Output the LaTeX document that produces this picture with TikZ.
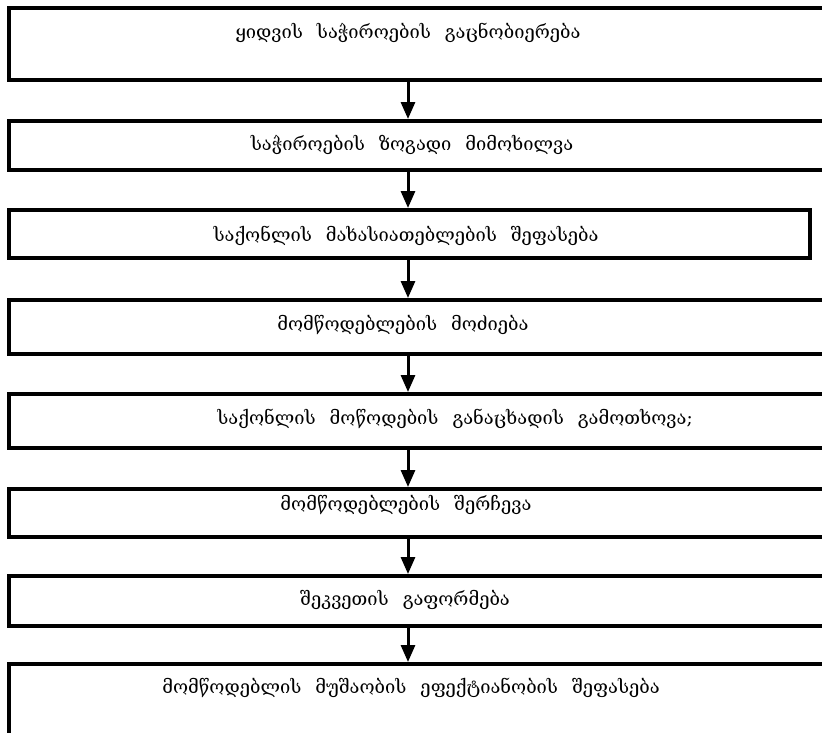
\documentclass[tikz,border=0pt]{standalone}
\usepackage{fontspec}
\setmainfont{DejaVu Serif}[WordSpace=2.4]
\usetikzlibrary{arrows.meta}
\begin{document}
\begin{tikzpicture}[x=1pt,y=-1pt,
  stepbox/.style={draw=black, line width=4pt, fill=white, anchor=north west,
    rectangle, inner sep=0pt},
  steptext/.style={font=\fontsize{18.3}{20}\selectfont, inner sep=0pt, anchor=center},
  flow/.style={line width=3pt, -{Triangle[width=14pt,length=17pt]}}]
\useasboundingbox (0,0) rectangle (822,732);
\clip (0,0) rectangle (822,732);
% process boxes (open past the right and bottom edges where they run off)
\node[stepbox, minimum width=840pt, minimum height=72pt] (b1) at (7,6) {};
\node[stepbox, minimum width=840pt, minimum height=49pt] (b2) at (7,119) {};
\node[stepbox, minimum width=801pt, minimum height=48pt] (b3) at (7,208) {};
\node[stepbox, minimum width=840pt, minimum height=54pt] (b4) at (7,298) {};
\node[stepbox, minimum width=840pt, minimum height=54pt] (b5) at (7,392) {};
\node[stepbox, minimum width=840pt, minimum height=48pt] (b6) at (7,487) {};
\node[stepbox, minimum width=840pt, minimum height=50pt] (b7) at (7,574) {};
\node[stepbox, minimum width=840pt, minimum height=100pt] (b8) at (7,662) {};
% step labels
\node[steptext] (t1) at (408,33) {ყიდვის საჭიროების გაცნობიერება};
\node[steptext] (t2) at (412,145) {საჭიროების ზოგადი მიმოხილვა};
\node[steptext] (t3) at (406,236) {საქონლის მახასიათებლების შეფასება};
\node[steptext] (t4) at (403,325) {მომწოდებლების მოძიება};
\node[steptext] (t5) at (455,419) {საქონლის მოწოდების განაცხადის გამოთხოვა;};
\node[steptext] (t6) at (406,505) {მომწოდებლების შერჩევა};
\node[steptext] (t7) at (405,600) {შეკვეთის გაფორმება};
\node[steptext] (t8) at (411,688) {მომწოდებლის მუშაობის ეფექტიანობის შეფასება};
% connectors
\coordinate (ax) at (408,0);
\draw[flow] (b1.south -| ax) -- (b2.north -| ax);
\draw[flow] (b2.south -| ax) -- (b3.north -| ax);
\draw[flow] (b3.south -| ax) -- (b4.north -| ax);
\draw[flow] (b4.south -| ax) -- (b5.north -| ax);
\draw[flow] (b5.south -| ax) -- (b6.north -| ax);
\draw[flow] (b6.south -| ax) -- (b7.north -| ax);
\draw[flow] (b7.south -| ax) -- (b8.north -| ax);
\end{tikzpicture}
\end{document}
